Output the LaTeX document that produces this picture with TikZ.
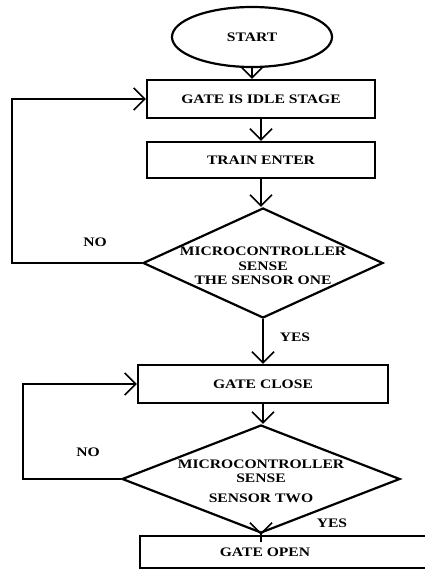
\documentclass[tikz,border=0pt]{standalone}
\usepackage{fontspec}
\usepackage{tikz}
\setmainfont{Liberation Serif}
\newfontfamily\chartfont[FakeStretch=1.2]{Liberation Serif}
\usetikzlibrary{shapes.geometric,arrows.meta}
\tikzset{
  stepbox/.style={draw, rectangle, line width=2.4pt, inner sep=0pt},
  decision/.style={draw, diamond, line width=2.2pt, inner sep=0pt},
  startstop/.style={draw, ellipse, line width=2.2pt, inner sep=0pt},
  flowline/.style={line width=2.6pt, -{Straight Barb[length=11pt,width=22pt,line width=1.6pt]}},
  tag/.style={font=\chartfont\bfseries\fontsize{13}{14.5}\selectfont}
}

\begin{document}
\begin{tikzpicture}[x=1pt, y=-1pt]
\useasboundingbox (0,0) rectangle (424,570);

% Start and the first steps
\node[startstop, minimum width=160pt, minimum height=60pt, tag] (start) at (252,37) {START};
\node[stepbox, minimum width=228pt, minimum height=38pt, tag] (idle) at (261,99) {GATE IS IDLE STAGE};
\node[stepbox, minimum width=228pt, minimum height=36pt, tag] (train) at (261,160) {TRAIN ENTER};

% First check
\node[decision, minimum width=240pt, minimum height=110pt,
  label={[tag, align=center, yshift=-3pt]center:MICROCONTROLLER\\SENSE\\THE SENSOR ONE}] (sense1) at (263,263) {};
\node[stepbox, minimum width=250pt, minimum height=38pt, tag] (close) at (263,384) {GATE CLOSE};

% Second check
\node[decision, minimum width=278pt, minimum height=108pt,
  label={[tag, align=center, yshift=-2pt]center:MICROCONTROLLER\\SENSE\\[5pt]SENSOR TWO}] (sense2) at (261,479) {};
\node[stepbox, minimum width=290pt, minimum height=32pt,
  label={[tag, xshift=-20pt]center:GATE OPEN}] (open) at (285,552) {};

% Loop corners
\coordinate (noA) at (12,263);
\coordinate (noB) at (23,479);

% Connectors
\draw[flowline] (start.south) -- (start.south |- idle.north);
\draw[flowline] (idle.south) -- (train.north);
\draw[flowline] (train.south) -- (train.south |- sense1.north);
\draw[flowline] (sense1.south) -- (sense1.south |- close.north);
\draw[flowline] (close.south) -- (close.south |- sense2.north);
\draw[flowline, shorten <=-8pt] (sense2.south) -- (sense2.south |- open.north);
\draw[flowline, line width=2.2pt] (sense1.west) -- (noA) |- (idle.west);
\draw[flowline, line width=2.2pt] (sense2.west) -- (noB) |- (close.west);

% Answers
\node[tag] (noone) at (95,242) {NO};
\node[tag] (yesone) at (295,337) {YES};
\node[tag] (notwo) at (88,452) {NO};
\node[tag] (yestwo) at (332,523) {YES};
\end{tikzpicture}
\end{document}
